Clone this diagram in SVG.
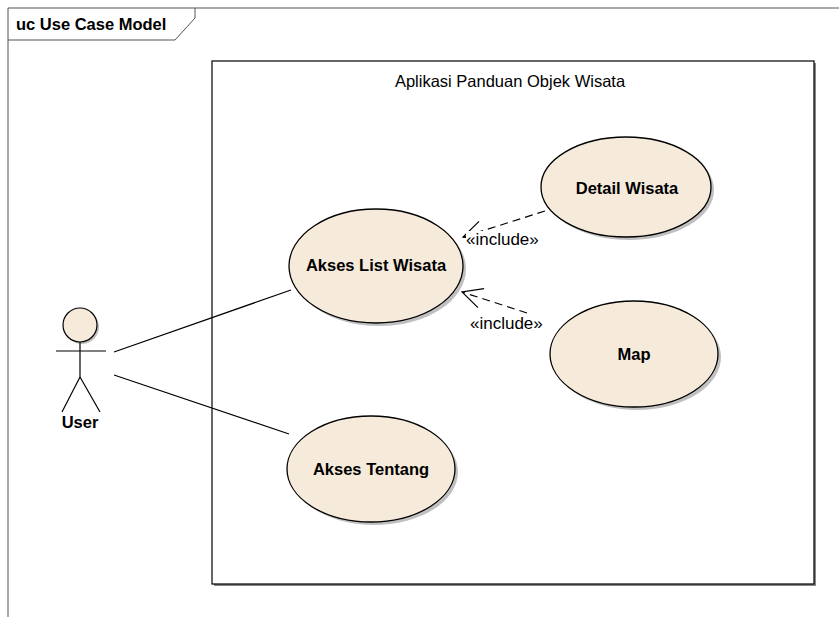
<svg xmlns="http://www.w3.org/2000/svg" width="839" height="617" viewBox="0 0 839 617">
<defs>
<style>
.t{font-family:"Liberation Sans",Arial,sans-serif;font-size:16.5px;fill:#000}
.b{font-weight:bold}
.inc{font-size:17px}
.uc{fill:#F6EBDB;stroke:#000;stroke-width:1.3}
.sh{fill:#C0C0C0}
.ln{stroke:#000;stroke-width:1.2;fill:none}
.dash{stroke:#000;stroke-width:1.2;fill:none;stroke-dasharray:8,5}
</style>
<marker id="open" viewBox="0 0 22 22" refX="21" refY="11" markerWidth="22" markerHeight="22" markerUnits="userSpaceOnUse" orient="auto">
<path d="M1,1 L21,11 L1,21" fill="none" stroke="#000" stroke-width="1.2"/>
</marker>
</defs>
<rect width="839" height="617" fill="#fff"/>
<g id="frame">
<path d="M8,617 V8 H839" fill="none" stroke="#555" stroke-width="1"/>
<path d="M8,40 H175 L195,18 V8" fill="none" stroke="#555" stroke-width="1"/>
<text class="t b" x="16" y="30">uc Use Case Model</text>
</g>
<g id="system">
<rect x="214" y="63" width="602" height="523" fill="#888"/>
<rect x="212" y="61" width="602" height="523" fill="#fff" stroke="#000" stroke-width="1.2"/>
<text class="t" x="510" y="87" text-anchor="middle">Aplikasi Panduan Objek Wisata</text>
</g>
<g id="connectors">
<line class="ln" x1="114" y1="352" x2="291" y2="290"/>
<line class="ln" x1="114" y1="375" x2="289" y2="434"/>
<line class="dash" x1="545" y1="211" x2="463" y2="237" marker-end="url(#open)"/>
<line class="dash" x1="527" y1="313" x2="462" y2="292" marker-end="url(#open)"/>
<rect x="466" y="231" width="76" height="16" fill="#fff"/>
<text class="t inc" x="466" y="245">«include»</text>
<text class="t inc" x="470" y="329">«include»</text>
</g>
<g id="detail">
<ellipse class="sh" cx="629" cy="190" rx="85" ry="50"/>
<ellipse class="uc" cx="626" cy="187" rx="85" ry="50"/>
<text class="t b" x="627" y="194" text-anchor="middle">Detail Wisata</text>
</g>
<g id="akseslist">
<ellipse class="sh" cx="379" cy="269" rx="87" ry="57"/>
<ellipse class="uc" cx="376" cy="266" rx="87" ry="57"/>
<text class="t b" x="376" y="271" text-anchor="middle">Akses List Wisata</text>
</g>
<g id="map">
<ellipse class="sh" cx="637" cy="357" rx="84" ry="53"/>
<ellipse class="uc" cx="634" cy="354" rx="84" ry="53"/>
<text class="t b" x="634" y="360" text-anchor="middle">Map</text>
</g>
<g id="tentang">
<ellipse class="sh" cx="374" cy="472" rx="84" ry="53"/>
<ellipse class="uc" cx="371" cy="469" rx="84" ry="53"/>
<text class="t b" x="371" y="475" text-anchor="middle">Akses Tentang</text>
</g>
<g id="user">
<circle cx="82" cy="327" r="17" fill="#C0C0C0"/>
<circle cx="80" cy="325" r="17" fill="#F6EBDB" stroke="#000" stroke-width="1.2"/>
<path class="ln" d="M80,342 V377 M56,351 H106 M80,377 L62,412 M80,377 L100,412"/>
<text class="t b" x="80" y="428" text-anchor="middle">User</text>
</g>
</svg>
